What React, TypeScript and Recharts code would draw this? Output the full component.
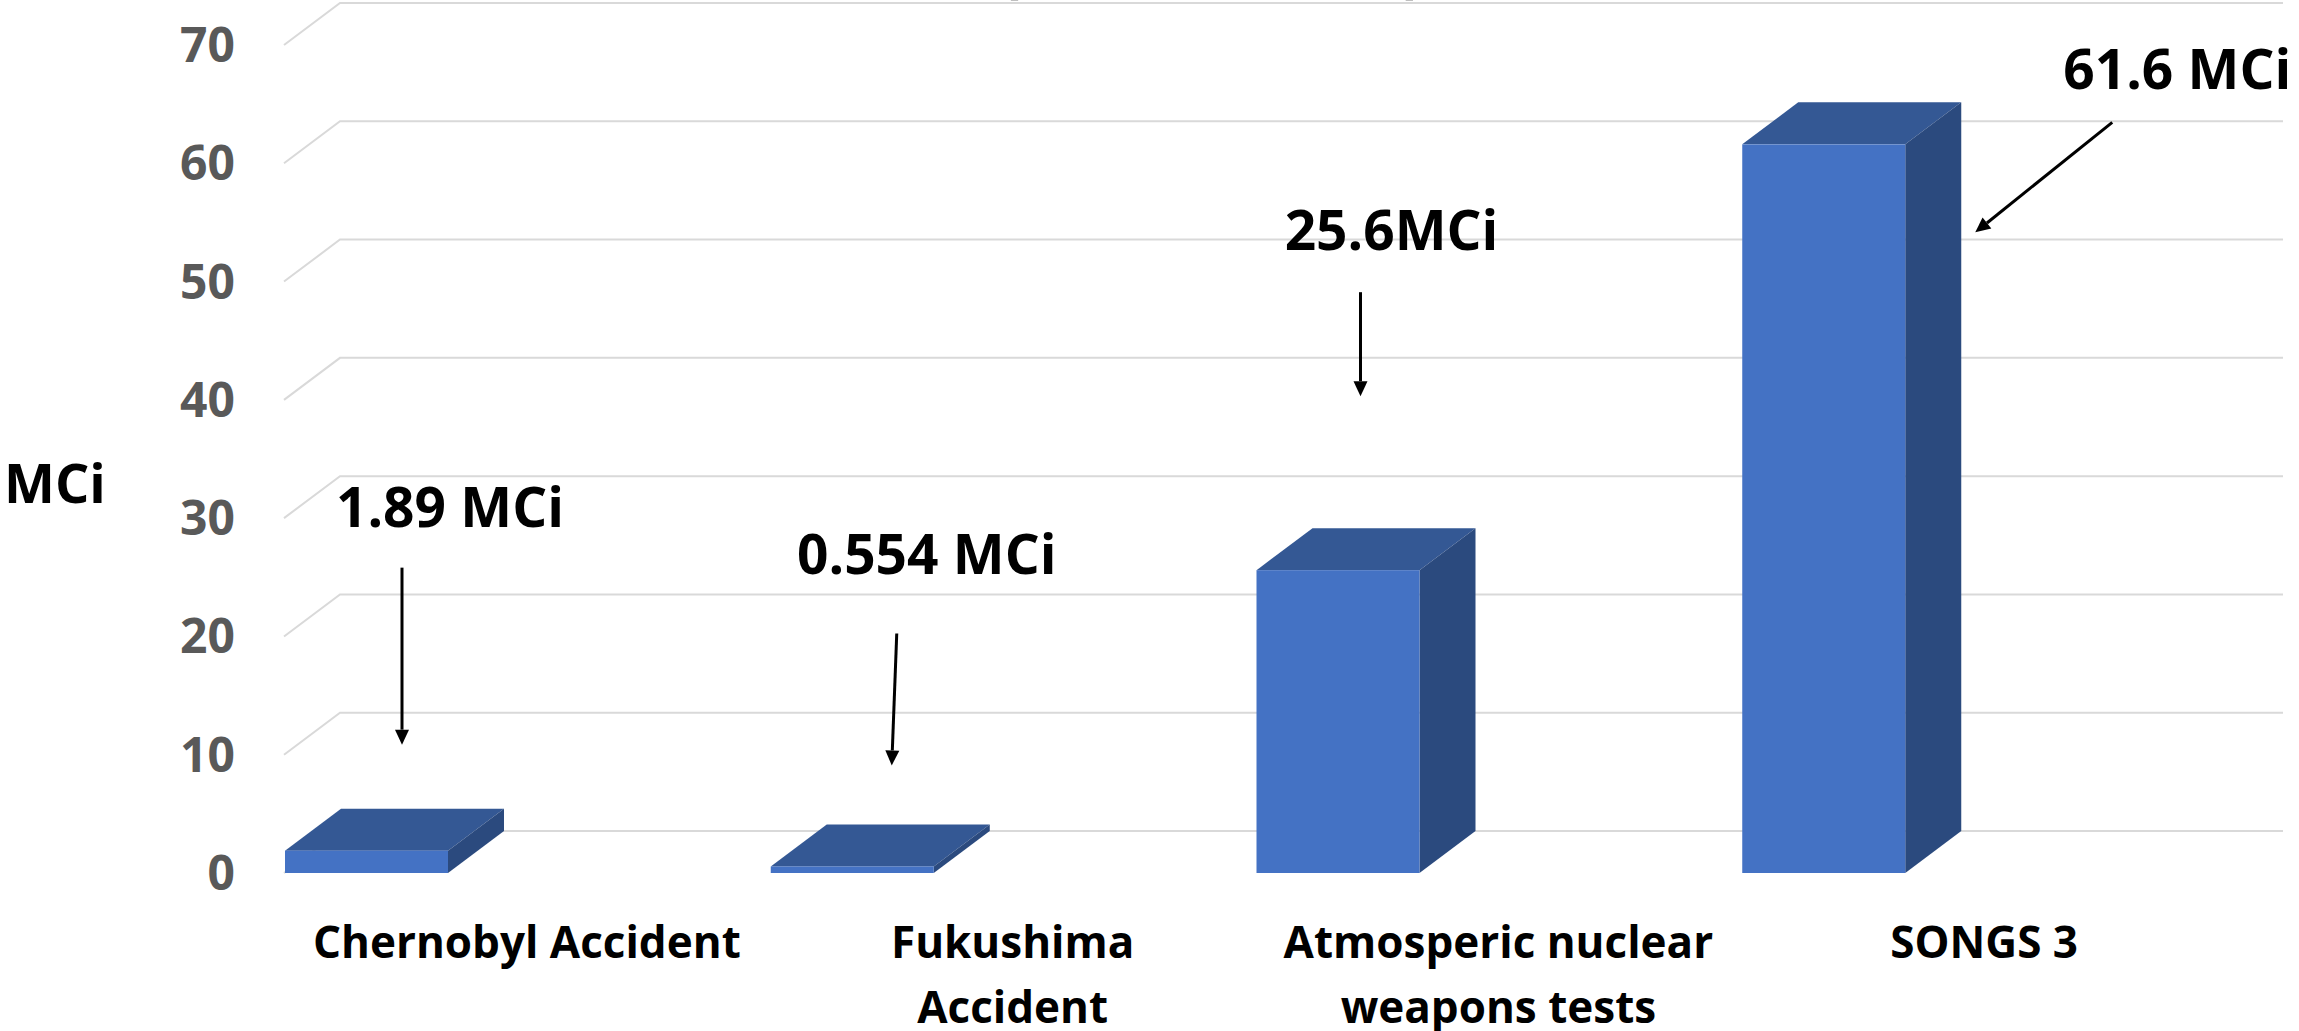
import React from 'react'
import { BarChart, Bar, XAxis, YAxis, CartesianGrid } from 'recharts'

const categories = ['Chernobyl Accident', 'Fukushima Accident', 'Atmosperic nuclear weapons tests', 'SONGS 3']
const tickLines = [['Chernobyl Accident'], ['Fukushima', 'Accident'], ['Atmosperic nuclear', 'weapons tests'], ['SONGS 3']]
const releaseMCi = [1.89, 0.554, 25.6, 61.6]
const annotationLabels = ['1.89 MCi', '0.554 MCi', '25.6MCi', '61.6 MCi']
const yTicks = [0, 10, 20, 30, 40, 50, 60, 70]

const data = categories.map((name, i) => ({ name, value: releaseMCi[i], note: annotationLabels[i] }))

// 3D look: depth offset of the back wall / bar tops, and front face width
const DX = 56
const DY = 42
const FRONT_W = 163
const FONT = "'Open Sans', sans-serif"

// where each callout sits, relative to the bar's band start and front top
const annotationLayout = [
  { tx: 166, ty: -324, ax1: 118, ay1: -283, ax2: 118, ay2: -106 },
  { tx: 157, ty: -292, ax1: 127, ay1: -233, ax2: 122, ay2: -101 },
  { tx: 136, ty: -320, ax1: 105, ay1: -278, ax2: 105, ay2: -174 },
  { tx: 436, ty: -55, ax1: 371, ay1: -22, ax2: 234, ay2: 88 },
]

function Arrow({ x1, y1, x2, y2 }: { x1: number; y1: number; x2: number; y2: number }) {
  const len = Math.hypot(x2 - x1, y2 - y1)
  const ux = (x2 - x1) / len
  const uy = (y2 - y1) / len
  const head = 15
  const half = 7
  const bx = x2 - ux * head
  const by = y2 - uy * head
  return (
    <g>
      <line x1={x1} y1={y1} x2={bx} y2={by} stroke="#000" strokeWidth={3} />
      <polygon
        points={`${x2},${y2} ${bx - uy * half},${by + ux * half} ${bx + uy * half},${by - ux * half}`}
        fill="#000"
      />
    </g>
  )
}

function Box3D(props: any) {
  const { x, y, height, index, payload } = props
  const x0 = x + 1
  const w = FRONT_W
  const a = annotationLayout[index]
  return (
    <g>
      <polygon points={`${x0},${y} ${x0 + DX},${y - DY} ${x0 + w + DX},${y - DY} ${x0 + w},${y}`} fill="#345894" />
      <polygon
        points={`${x0 + w},${y} ${x0 + w + DX},${y - DY} ${x0 + w + DX},${y + height - DY} ${x0 + w},${y + height}`}
        fill="#2B4A7E"
      />
      <rect x={x0} y={y} width={w} height={height} fill="#4472C4" />
      {a && (
        <g>
          <text x={x + a.tx} y={y + a.ty} textAnchor="middle" fontSize={55} fontWeight="bold" fill="#000" fontFamily={FONT}>
            {payload.note}
          </text>
          <Arrow x1={x + a.ax1} y1={y + a.ay1} x2={x + a.ax2} y2={y + a.ay2} />
        </g>
      )}
    </g>
  )
}

const backWallLine = (p: any) => {
  const { x1, x2, y1 } = p
  return (
    <path
      key={p.key ?? `grid-${p.index}`}
      d={`M${x1},${y1} L${x1 + DX},${y1 - DY} L${x2 + DX},${y1 - DY}`}
      fill="none"
      stroke="#d9d9d9"
      strokeWidth={2}
    />
  )
}

function CategoryTick(props: any) {
  const { x, y, payload } = props
  const i = categories.indexOf(payload.value)
  const lines = tickLines[i] ?? [payload.value]
  return (
    <text x={x} y={y} textAnchor="middle" fontSize={44} fontWeight="bold" fill="#000" fontFamily={FONT}>
      {lines.map((l, k) => (
        <tspan key={k} x={x} y={y + 85 + k * 65}>
          {l}
        </tspan>
      ))}
    </text>
  )
}

export default function App() {
  return (
    <div style={{ position: 'absolute', left: 0, top: 0, width: 2299, height: 1031, overflow: 'hidden', background: '#fff', fontFamily: FONT }}>
      <BarChart width={2299} height={1031} data={data} margin={{ top: 45, right: 72, bottom: 0, left: 0 }} barCategoryGap={0}>
        <CartesianGrid vertical={false} horizontal={backWallLine} />
        <XAxis
          dataKey="name"
          height={158}
          interval={0}
          axisLine={false}
          tickLine={false}
          tickSize={0}
          tickMargin={0}
          tick={CategoryTick}
        />
        <YAxis
          domain={[0, 70]}
          ticks={yTicks}
          width={284}
          axisLine={false}
          tickLine={false}
          tickSize={0}
          tickMargin={49}
          tick={{ fill: '#595959', fontSize: 48, fontWeight: 'bold', fontFamily: FONT }}
          label={{ value: 'MCi', position: 'insideLeft', offset: 4, dy: 25, fill: '#000', fontSize: 54, fontWeight: 'bold', fontFamily: FONT }}
        />
        <Bar dataKey="value" shape={Box3D} isAnimationActive={false} />
      </BarChart>
      <svg width={2299} height={40} style={{ position: 'absolute', left: 0, top: 0, pointerEvents: 'none' }}>
        <text x={1010} y={-9} fontSize={60} fontWeight="bold" fontFamily={FONT} fill="#000" textAnchor="middle">(</text>
        <text x={1414} y={-9} fontSize={60} fontWeight="bold" fontFamily={FONT} fill="#000" textAnchor="middle">)</text>
      </svg>
    </div>
  )
}
